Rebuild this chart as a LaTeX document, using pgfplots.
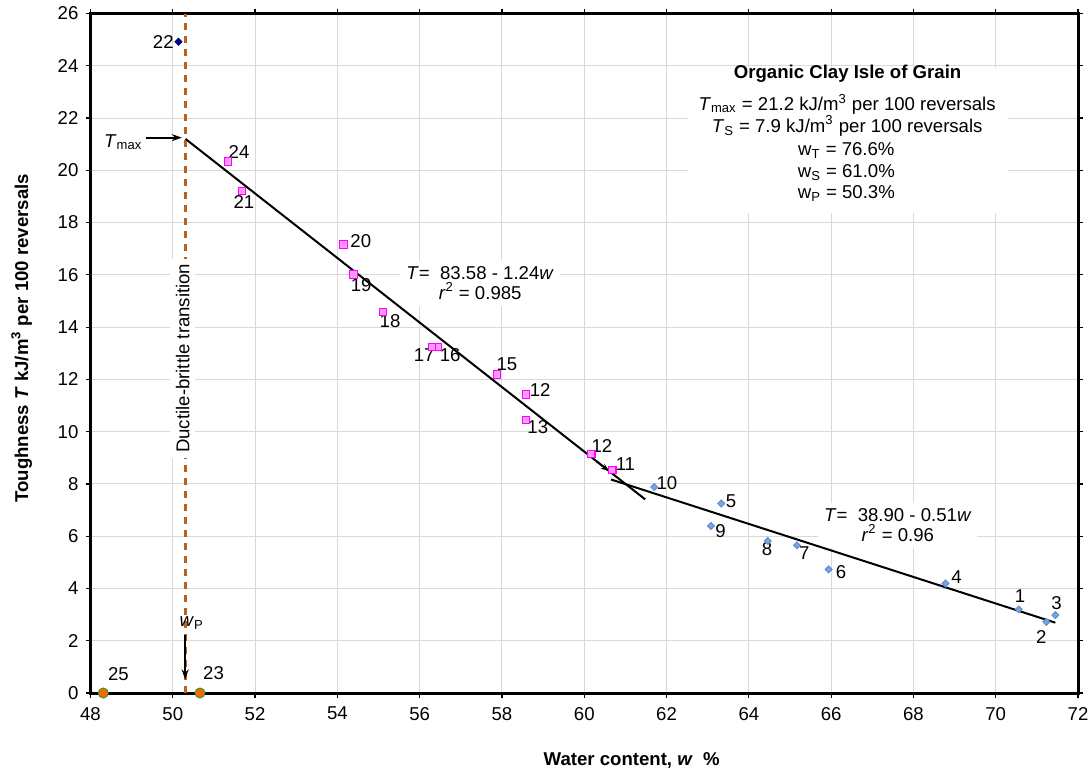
\documentclass[border=0pt]{standalone}
\usepackage{fontspec}
\setmainfont{Liberation Sans}
\usepackage{pgfplots}
\pgfplotsset{compat=1.18}
\usetikzlibrary{arrows.meta}
\definecolor{diafill}{HTML}{7BA3DC}
\definecolor{diaedge}{HTML}{5B8BD0}
\definecolor{sqfill}{HTML}{FF99FF}
\definecolor{sqedge}{HTML}{FF00FF}
\definecolor{navyc}{HTML}{000080}
\definecolor{orng}{HTML}{FF6600}
\definecolor{grn}{HTML}{339933}
\definecolor{brn}{HTML}{B8621E}
\definecolor{gridc}{HTML}{D9D9D9}
\begin{document}
\begin{tikzpicture}[font=\fontsize{9.3}{11.2}\selectfont]
\path[use as bounding box] (0,0) rectangle (545pt,386.5pt);
\begin{axis}[at={(45.25pt,40pt)}, anchor=south west, scale only axis,
  width=493.75pt, height=339.75pt,
  xmin=48, xmax=72, ymin=0, ymax=26,
  xtick={48,50,...,72}, ytick={0,2,...,26},
  grid=major, grid style={gridc, line width=0.5pt},
  axis line style={line width=1.5pt},
  tick align=outside, major tick length=2.5pt, tick style={black, line width=0.6pt},
  ticklabel style={font=\fontsize{9.3}{11}\selectfont},
  xticklabel style={yshift=-1pt},
  /pgf/number format/assume math mode=true,
  clip=false,
  xlabel={\textbf{Water content, \textit{w}\ \ \%}},
  ylabel={\textbf{Toughness \textit{T} kJ/m\textsuperscript{3} per 100 reversals}},
  xlabel style={at={(axis description cs:0.548,-0.0986)}, anchor=center},
  ylabel style={at={(axis description cs:-0.0697,0.522)}, anchor=center},
]
% white annotation box
\fill[white] (axis cs:62.53,23.9) rectangle (axis cs:70.29,18.36);

% ductile-brittle line
\addplot[brn, line width=1.1pt, dash pattern=on 3.5pt off 3pt] coordinates {(50.31,0) (50.31,26)};

% ductile-brittle text
\node[rotate=90, fill=white, inner xsep=2.5pt, inner ysep=3pt] at (axis cs:50.24,12.81) {Ductile-brittle transition};

% equations (white boxes under the lines)
\node[fill=white, align=center, inner sep=3pt, font=\fontsize{9.3}{9.7}\selectfont] at (axis cs:57.47,15.68)
  {\textit{T}=\ \ 83.58 - 1.24\textit{w}\\\textit{r}\textsuperscript{2} = 0.985};
\node[fill=white, align=center, inner sep=3pt, font=\fontsize{9.3}{10}\selectfont] at (axis cs:67.62,6.42)
  {\textit{T}=\ \ 38.90 - 0.51\textit{w}\\\textit{r}\textsuperscript{2} = 0.96};

% regression lines
\addplot[black, line width=1pt] coordinates {(50.31,21.2) (61.48,7.41)};
\addplot[black, line width=1pt] coordinates {(60.65,8.17) (71.45,2.69)};

% blue diamonds 1-10
\addplot[only marks, mark=square*, mark size=1.25pt,
  mark options={rotate=45, fill=diafill, draw=diaedge, line width=0.4pt}] coordinates {
 (70.56,3.20) (71.23,2.72) (71.45,2.98) (68.78,4.19) (63.33,7.25)
 (65.94,4.73) (65.17,5.65) (64.46,5.82) (63.08,6.39) (61.70,7.88)};

% magenta squares
\addplot[only marks, mark=square*, mark size=1.85pt,
  mark options={fill=sqfill, draw=sqedge, line width=0.6pt}] coordinates {
 (60.68,8.53) (60.17,9.15) (58.58,11.42) (58.58,10.45) (57.88,12.19)
 (56.44,13.24) (56.30,13.24) (55.11,14.58) (54.39,16.01) (54.15,17.16)
 (51.68,19.21) (51.34,20.34)};

% point 22
\addplot[only marks, mark=square*, mark size=1.25pt,
  mark options={rotate=45, fill=navyc, draw=navyc}] coordinates {(50.14,24.92)};

% points 23, 25
\addplot[only marks, mark=*, mark size=2.5pt,
  mark options={fill=orng, draw=grn, line width=0.5pt}] coordinates {(48.31,0) (50.66,0)};

% arrows
\draw[-{Stealth[length=5pt,width=3.5pt]}, line width=0.9pt] (axis cs:49.35,21.25) -- (axis cs:50.22,21.25);
\draw[-{Stealth[length=5pt,width=3.5pt]}, line width=0.9pt] (axis cs:50.30,2.22) -- (axis cs:50.30,0.52);
\draw[-{Stealth[length=4pt,width=3pt]}, line width=0.8pt] (axis cs:60.30,8.86) -- (axis cs:60.60,8.49);

% annotation text
\node[anchor=base] at (axis cs:66.40,23.51) {\textbf{Organic Clay Isle of Grain}};
\node[anchor=base] at (axis cs:66.39,22.27) {\textit{T}\textsubscript{max} = 21.2 kJ/m\textsuperscript{3} per 100 reversals};
\node[anchor=base] at (axis cs:66.39,21.46) {\textit{T}\textsubscript{S} = 7.9 kJ/m\textsuperscript{3} per 100 reversals};
\node[anchor=base] at (axis cs:66.37,20.57) {w\textsubscript{T} = 76.6\%};
\node[anchor=base] at (axis cs:66.37,19.74) {w\textsubscript{S} = 61.0\%};
\node[anchor=base] at (axis cs:66.37,18.92) {w\textsubscript{P} = 50.3\%};

% labels
\node[anchor=east] at (axis cs:49.43,21.08) {\textit{T}\textsubscript{max}};
\node at (axis cs:50.46,2.67) {\textit{w}\textsubscript{P}};
\node at (axis cs:49.77,24.91) {22};
\node at (axis cs:51.61,20.70) {24};
\node at (axis cs:51.73,18.80) {21};
\node at (axis cs:54.57,17.30) {20};
\node at (axis cs:54.58,15.60) {19};
\node at (axis cs:55.28,14.24) {18};
\node at (axis cs:56.11,12.93) {17};
\node at (axis cs:56.74,12.93) {16};
\node at (axis cs:58.12,12.57) {15};
\node at (axis cs:58.93,11.61) {12};
\node at (axis cs:58.87,10.16) {13};
\node at (axis cs:60.43,9.47) {12};
\node at (axis cs:61.00,8.76) {11};
\node at (axis cs:62.01,8.04) {10};
\node at (axis cs:63.57,7.35) {5};
\node at (axis cs:63.31,6.21) {9};
\node at (axis cs:64.44,5.50) {8};
\node at (axis cs:65.35,5.37) {7};
\node at (axis cs:66.24,4.61) {6};
\node at (axis cs:69.05,4.45) {4};
\node at (axis cs:70.59,3.71) {1};
\node at (axis cs:71.11,2.13) {2};
\node at (axis cs:71.48,3.43) {3};
\node at (axis cs:48.68,0.72) {25};
\node at (axis cs:50.99,0.75) {23};
\end{axis}
\end{tikzpicture}
\end{document}
